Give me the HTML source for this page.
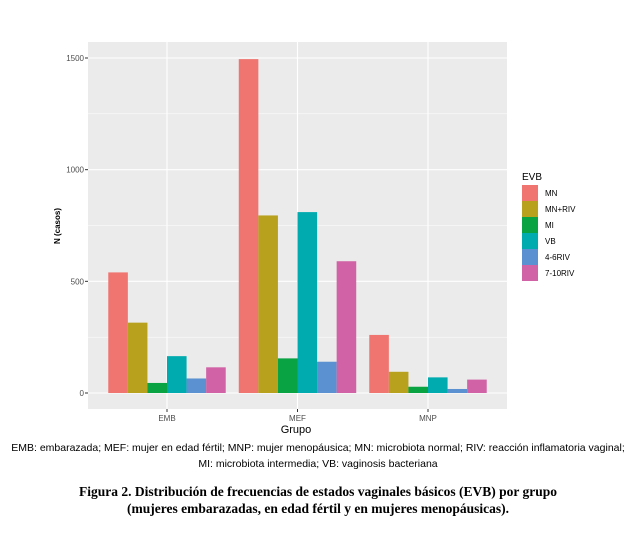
<!DOCTYPE html>
<html><head><meta charset="utf-8"><style>
body{margin:0;background:#fff;width:636px;height:530px;overflow:hidden;font-family:"Liberation Sans",sans-serif}
</style></head><body>
<svg width="636" height="530" id="svg" xmlns="http://www.w3.org/2000/svg">
<rect x="88" y="42" width="419" height="367" fill="#ebebeb"/>
<g id="grid"></g><g id="bars"></g><g id="axes"></g><g id="legend"></g>
<text x="296" y="433" font-size="11" text-anchor="middle" fill="#000">Grupo</text>
<text transform="translate(60,226) rotate(-90)" font-size="8" font-weight="bold" text-anchor="middle">N (casos)</text>
<text x="318" y="451" font-size="10.5" text-anchor="middle">EMB: embarazada; MEF: mujer en edad fértil; MNP: mujer menopáusica; MN: microbiota normal; RIV: reacción inflamatoria vaginal;</text>
<text x="318" y="467" font-size="10.5" text-anchor="middle">MI: microbiota intermedia; VB: vaginosis bacteriana</text>
<text x="318" y="496" font-size="13.5" font-weight="bold" text-anchor="middle" font-family="Liberation Serif,serif">Figura 2. Distribución de frecuencias de estados vaginales básicos (EVB) por grupo</text>
<text x="318" y="513" font-size="13.5" font-weight="bold" text-anchor="middle" font-family="Liberation Serif,serif">(mujeres embarazadas, en edad fértil y en mujeres menopáusicas).</text>
</svg>
<script>
const groups=["EMB","MEF","MNP"];
const series=["MN","MN+RIV","MI","VB","4-6RIV","7-10RIV"];
const colors=["#f07470","#b8a11c","#0aa344","#00abb0","#5b91d0","#d062a5"];
const valsMN=[540,1495,260];
const valsMNRIV=[315,795,95];
const valsMI=[45,155,28];
const valsVB=[165,810,70];
const vals46=[65,140,18];
const vals710=[115,590,60];
const yTicks=[0,500,1000,1500];
const values=[valsMN,valsMNRIV,valsMI,valsVB,vals46,vals710];
const NS="http://www.w3.org/2000/svg";
const y0=393,pxPer=335/1500,xL=88,xR=507;
const y=v=>y0-v*pxPer;
const step=130.5;
const xc=i=>(xL+xR)/2+(i-(groups.length-1)/2)*step;
function mk(tag,a,p){const e=document.createElementNS(NS,tag);for(const k in a)e.setAttribute(k,a[k]);p.appendChild(e);return e;}
const grid=document.getElementById('grid'),bars=document.getElementById('bars'),axes=document.getElementById('axes'),leg=document.getElementById('legend');
for(let t=0;t<yTicks.length;t++){
 const v=yTicks[t];
 const l=mk('line',{x1:xL,x2:xR,y1:y(v),y2:y(v),stroke:'#fff','stroke-width':1.1},grid);
 
 
 if(t<yTicks.length-1){const m=(v+yTicks[t+1])/2;
 const l2=mk('line',{x1:xL,x2:xR,y1:y(m),y2:y(m),stroke:'#fff','stroke-width':0.5},grid);
 
 }
 const tx=mk('text',{x:xL-4,y:y(v)+3,'font-size':8,'text-anchor':'end',fill:'#4d4d4d'},axes);tx.textContent=v;
 
 
 mk('line',{x1:xL-3,x2:xL,y1:y(v),y2:y(v),stroke:'#333'},axes);
}
groups.forEach((g,i)=>{
 const l=mk('line',{x1:xc(i),x2:xc(i),y1:42,y2:409,stroke:'#fff','stroke-width':1.1},grid);
 
 
 mk('line',{x1:xc(i),x2:xc(i),y1:409,y2:412,stroke:'#333'},axes);
 const tx=mk('text',{x:xc(i),y:421,'font-size':8,'text-anchor':'middle',fill:'#4d4d4d'},axes);tx.textContent=g;
 
 
 const gw=step*0.9,bw=gw/series.length;
 series.forEach((s,j)=>{
  const v=values[j][i];
  const r=mk('rect',{x:xc(i)-gw/2+j*bw,y:y(v),width:bw,height:y0-y(v),fill:colors[j]},bars);
  
  
 });
});
const lt=mk('text',{x:522,y:180,'font-size':10,fill:'#000'},leg);lt.textContent='EVB';


series.forEach((s,j)=>{
 const r=mk('rect',{x:522,y:185+j*16,width:16,height:16,fill:colors[j]},leg);
 
 
 const t=mk('text',{x:545,y:196+j*16,'font-size':8,fill:'#000'},leg);t.textContent=s;
 
 
});
</script>
</body></html>
